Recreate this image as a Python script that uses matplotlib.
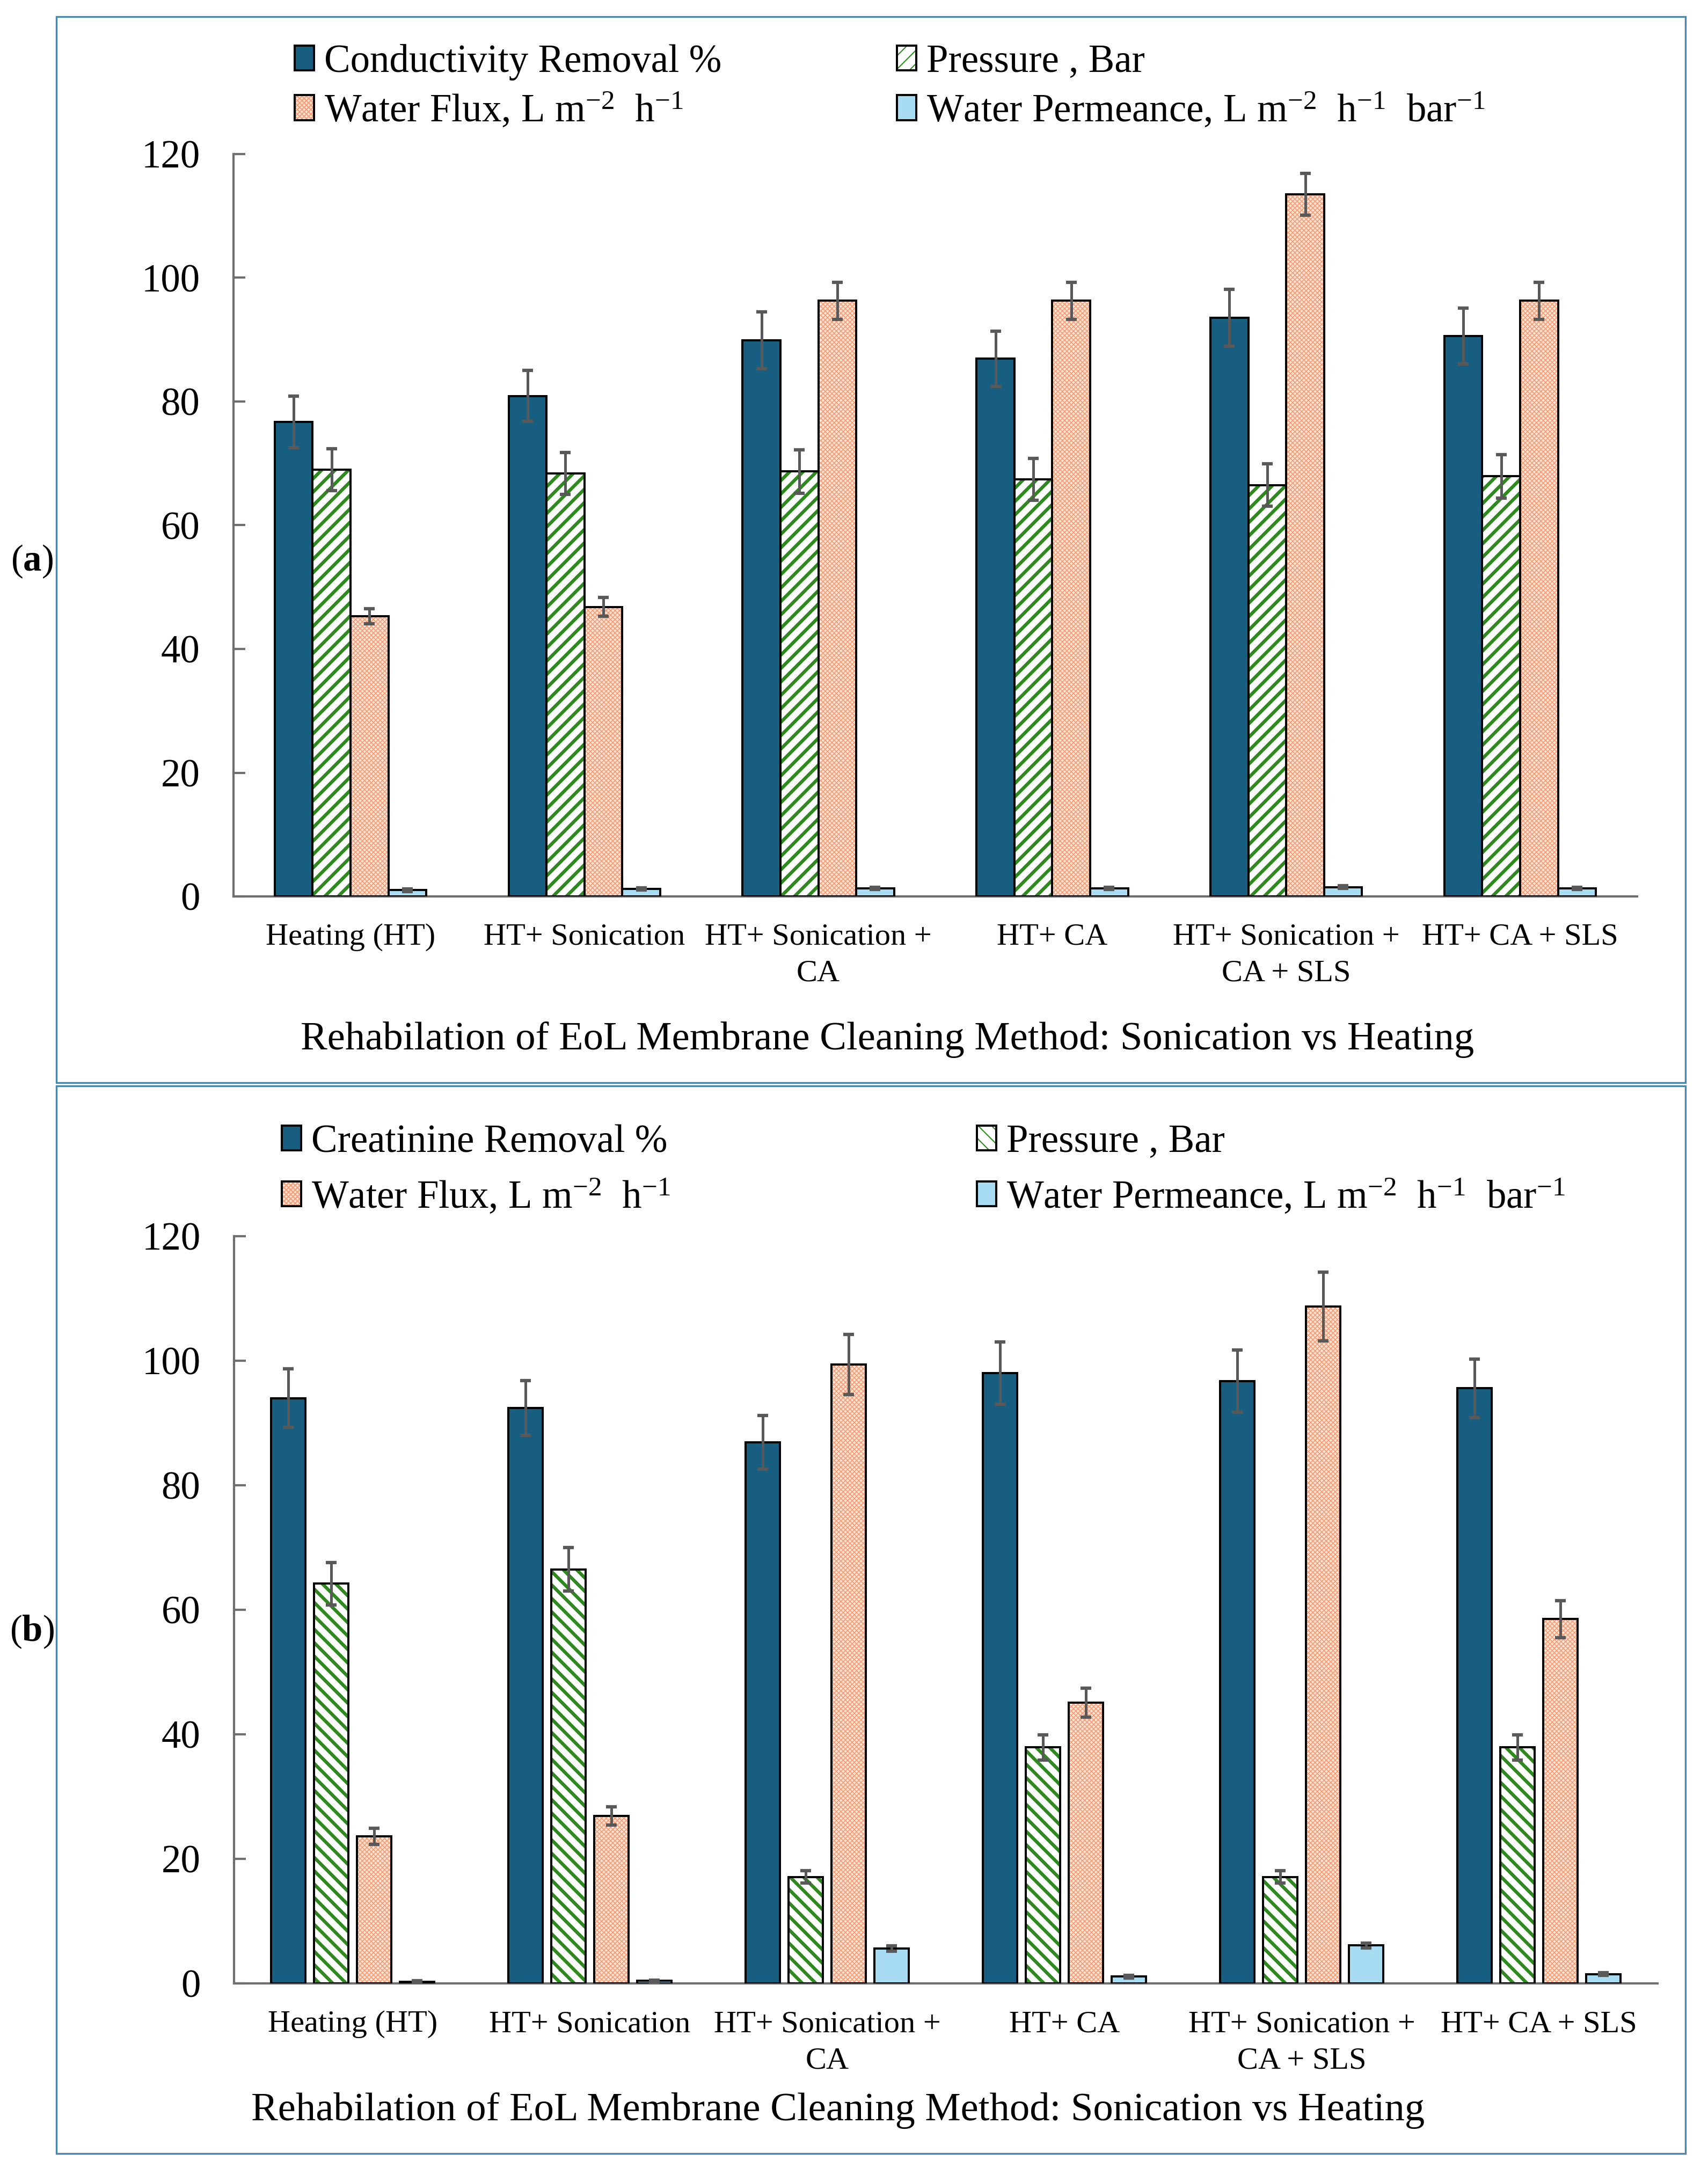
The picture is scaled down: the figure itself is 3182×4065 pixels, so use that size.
import matplotlib as mpl
import matplotlib.pyplot as plt
from matplotlib.patches import Patch, Rectangle
import numpy as np

plt.rcParams['font.family'] = ['Liberation Serif', 'DejaVu Serif']
plt.rcParams['mathtext.fontset'] = 'custom'
plt.rcParams['mathtext.rm'] = 'Liberation Serif'
plt.rcParams['mathtext.it'] = 'Liberation Serif:italic'
plt.rcParams['mathtext.bf'] = 'Liberation Serif:bold'

# categories (same for both panels)
categories = ['Heating (HT)', 'HT+ Sonication', 'HT+ Sonication +\nCA', 'HT+ CA',
              'HT+ Sonication +\nCA + SLS', 'HT+ CA + SLS']

# panel (a)
conductivity = [76.7, 80.9, 89.9, 86.9, 93.5, 90.6]
conductivity_err = [4.2, 4.1, 4.6, 4.5, 4.6, 4.5]
pressure_a = [69.0, 68.4, 68.7, 67.4, 66.5, 67.9]
pressure_a_err = [3.4, 3.4, 3.5, 3.4, 3.4, 3.5]
flux_a = [45.3, 46.8, 96.3, 96.3, 113.5, 96.3]
flux_a_err = [1.2, 1.5, 3.0, 3.0, 3.4, 3.0]
perm_a = [1.0, 1.2, 1.3, 1.3, 1.5, 1.3]
perm_a_err = [0.2, 0.2, 0.2, 0.2, 0.2, 0.2]

# panel (b)
creatinine = [94.0, 92.4, 86.9, 98.0, 96.7, 95.6]
creatinine_err = [4.7, 4.4, 4.3, 5.0, 5.0, 4.7]
pressure_b = [64.2, 66.5, 17.1, 37.9, 17.1, 37.9]
pressure_b_err = [3.4, 3.5, 1.0, 2.0, 1.0, 2.0]
flux_b = [23.6, 26.9, 99.4, 45.1, 108.7, 58.5]
flux_b_err = [1.3, 1.5, 4.8, 2.3, 5.5, 3.0]
perm_b = [0.3, 0.4, 5.6, 1.1, 6.1, 1.5]
perm_b_err = [0.1, 0.1, 0.4, 0.2, 0.4, 0.2]

removal_labels = ['Conductivity Removal %', 'Creatinine Removal %']
pressure_label = 'Pressure , Bar'
flux_label = r'Water Flux, L m$^{-2}$  h$^{-1}$'
perm_label = r'Water Permeance, L m$^{-2}$  h$^{-1}$  bar$^{-1}$'
xtitle = 'Rehabilation of EoL Membrane Cleaning Method: Sonication vs Heating'

W, H = 3182, 4065
DPI = 150
fig = plt.figure(figsize=(W / DPI, H / DPI), dpi=DPI)

BLUE = '#185e80'
GREEN = '#2e8a1f'
PEACH = '#fde6d8'
ORANGE = '#f4a07a'
LBLUE = '#a8dcf3'
GREY = '#6e6e6e'


def styled_bar(ax, xs, vals, w, face, hatch=None, hcol=None, hlw=1.0):
    if hatch:
        with mpl.rc_context({'hatch.linewidth': hlw}):
            bars = ax.bar(xs, vals, w, color=face, hatch=hatch, edgecolor=hcol, linewidth=0, zorder=2)
            for p in bars:
                if hasattr(p, 'set_hatch_linewidth'):
                    p.set_hatch_linewidth(hlw)
        ax.bar(xs, vals, w, facecolor='none', edgecolor='black', linewidth=1.9, zorder=3)
    else:
        ax.bar(xs, vals, w, color=face, edgecolor='black', linewidth=1.9, zorder=3)


def legend_handle(face, hatch=None, hcol=None, hlw=1.0):
    if hatch:
        with mpl.rc_context({'hatch.linewidth': hlw}):
            p = Patch(facecolor=face, hatch=hatch, edgecolor=hcol, linewidth=0)
            if hasattr(p, 'set_hatch_linewidth'):
                p.set_hatch_linewidth(hlw)
        return (p, Patch(facecolor='none', edgecolor='black', linewidth=1.9))
    return Patch(facecolor=face, edgecolor='black', linewidth=1.9)


def panel(rect, series, width, step, phatch, leg_x, leg_y, leg_gap, removal_label):
    ax = fig.add_axes(rect)
    x = np.arange(len(categories))
    specs = [
        dict(face=BLUE),
        dict(face='white', hatch=phatch, hcol=GREEN, hlw=3.0),
        dict(face=PEACH, hatch='xxxxxx', hcol=ORANGE, hlw=0.85),
        dict(face=LBLUE),
    ]
    for i, ((vals, errs), spec) in enumerate(zip(series, specs)):
        xs = x + (i - 1.5) * step
        styled_bar(ax, xs, vals, width, **spec)
        ax.errorbar(xs, vals, yerr=errs, fmt='none', ecolor='#595959',
                    elinewidth=2.4, capsize=4.6, capthick=3, zorder=5)

    ax.set_xlim(-0.5, len(categories) - 0.5)
    ax.set_ylim(0, 120)
    ax.set_yticks(range(0, 121, 20))
    ax.set_xticks(x)
    ax.set_xticklabels(categories, fontsize=28, linespacing=1.4)
    ax.tick_params(axis='x', length=0, pad=24)
    ax.tick_params(axis='y', direction='in', length=10.5, width=2, color=GREY,
                   labelsize=35, pad=30)
    for s in ['top', 'right']:
        ax.spines[s].set_visible(False)
    for s in ['left', 'bottom']:
        ax.spines[s].set_color(GREY)
        ax.spines[s].set_linewidth(2)
    ax.set_facecolor('none')

    handles = [legend_handle(**s) for s in specs]
    labels = [removal_label, pressure_label, flux_label, perm_label]
    common = dict(loc='center left', frameon=False, fontsize=35, borderpad=0, borderaxespad=0,
                  handlelength=0.5, handleheight=0.6, handletextpad=0.25, labelspacing=leg_gap,
                  bbox_transform=fig.transFigure)
    leg1 = ax.legend([handles[0], handles[2]], [labels[0], labels[2]],
                     bbox_to_anchor=(leg_x[0] / W, 1 - leg_y / H), **common)
    ax.add_artist(leg1)
    ax.legend([handles[1], handles[3]], [labels[1], labels[3]],
              bbox_to_anchor=(leg_x[1] / W, 1 - leg_y / H), **common)
    return ax


panel([435 / W, 1 - 1670 / H, (3050 - 435) / W, (1670 - 287) / H],
      [(conductivity, conductivity_err), (pressure_a, pressure_a_err),
       (flux_a, flux_a_err), (perm_a, perm_a_err)],
      width=0.162, step=0.162, phatch='//', leg_x=(549, 1671), leg_y=162, leg_gap=0.27,
      removal_label=removal_labels[0])

panel([436 / W, 1 - 3695 / H, (3088 - 436) / W, (3695 - 2303) / H],
      [(creatinine, creatinine_err), (pressure_b, pressure_b_err),
       (flux_b, flux_b_err), (perm_b, perm_b_err)],
      width=0.144, step=0.181, phatch='\\\\', leg_x=(525, 1820), leg_y=2180, leg_gap=0.42,
      removal_label=removal_labels[1])

# panel frames
for top, bottom in [(31, 2017), (2023, 4012)]:
    fig.add_artist(Rectangle((105 / W, 1 - bottom / H), (3140 - 105) / W, (bottom - top) / H,
                             transform=fig.transFigure, fill=False, edgecolor='#4a86a8', linewidth=1.6))

fig.text(1653 / W, 1 - 1937 / H, xtitle, ha='center', va='center', fontsize=35.8)
fig.text(1561 / W, 1 - 3932 / H, xtitle, ha='center', va='center', fontsize=35.8)
fig.text(60 / W, 1 - 1046 / H, r'($\mathbf{a}$)', ha='center', va='center', fontsize=33)
fig.text(60 / W, 1 - 3040 / H, r'($\mathbf{b}$)', ha='center', va='center', fontsize=33)

fig.savefig('out.png', dpi=DPI, facecolor='white')
